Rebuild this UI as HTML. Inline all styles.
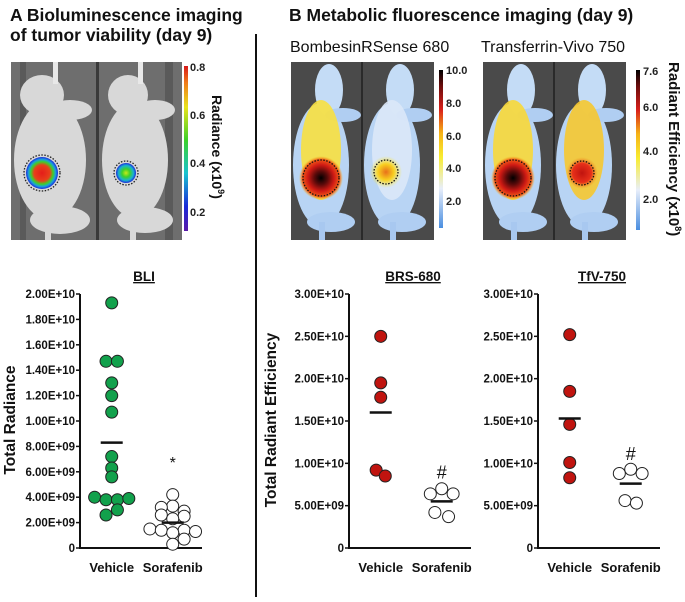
<!DOCTYPE html>
<html><head><meta charset="utf-8">
<style>
html,body{margin:0;padding:0;background:#fff;}
body{width:685px;height:597px;overflow:hidden;position:relative;font-family:"Liberation Sans",Arial,sans-serif;}
</style></head>
<body>
<svg id="fig" width="685" height="597" viewBox="0 0 685 597" xmlns="http://www.w3.org/2000/svg" font-family="Liberation Sans, Arial, sans-serif">
<defs>
<linearGradient id="gA" x1="0" y1="1" x2="0" y2="0">
<stop offset="0" stop-color="#5a1aa8"/><stop offset="0.15" stop-color="#1a2bd8"/><stop offset="0.35" stop-color="#19c3d0"/><stop offset="0.55" stop-color="#3dd12a"/><stop offset="0.75" stop-color="#e9e31c"/><stop offset="0.9" stop-color="#f07a1a"/><stop offset="1" stop-color="#d7181a"/>
</linearGradient>
<linearGradient id="gB" x1="0" y1="1" x2="0" y2="0">
<stop offset="0" stop-color="#4a8ee0"/><stop offset="0.25" stop-color="#e8eefa"/><stop offset="0.45" stop-color="#f8ec30"/><stop offset="0.6" stop-color="#f6b316"/><stop offset="0.75" stop-color="#d9201a"/><stop offset="0.9" stop-color="#6a0c0c"/><stop offset="1" stop-color="#000"/>
</linearGradient>
<radialGradient id="tumBig"><stop offset="0" stop-color="#000"/><stop offset="0.3" stop-color="#5a0a0a"/><stop offset="0.6" stop-color="#d01a14"/><stop offset="0.85" stop-color="#f05a18"/><stop offset="1" stop-color="#f8c020" stop-opacity="0"/></radialGradient>
<radialGradient id="tumMid"><stop offset="0" stop-color="#c0140f"/><stop offset="0.6" stop-color="#e8301a"/><stop offset="1" stop-color="#f0a020" stop-opacity="0"/></radialGradient>
<radialGradient id="tumSm"><stop offset="0" stop-color="#e8701a"/><stop offset="0.5" stop-color="#f8d020"/><stop offset="1" stop-color="#f8ec40" stop-opacity="0"/></radialGradient>
<radialGradient id="bliBig"><stop offset="0" stop-color="#e51d1a"/><stop offset="0.5" stop-color="#e8401a"/><stop offset="0.7" stop-color="#3dd12a"/><stop offset="0.85" stop-color="#1a9ee0"/><stop offset="1" stop-color="#1a2bd8"/></radialGradient>
<radialGradient id="bliSm"><stop offset="0" stop-color="#c8e81c"/><stop offset="0.4" stop-color="#3dd12a"/><stop offset="0.75" stop-color="#19b3d0"/><stop offset="1" stop-color="#1a2bd8"/></radialGradient>
</defs>

<text x="10" y="21" font-size="17.5" font-weight="bold" fill="#111">A  Bioluminescence imaging</text>
<text x="10" y="41" font-size="17.5" font-weight="bold" fill="#111">of tumor viability (day 9)</text>
<text x="289" y="21" font-size="17.5" font-weight="bold" fill="#111">B  Metabolic fluorescence imaging (day 9)</text>
<line x1="256" y1="34" x2="256" y2="597" stroke="#111" stroke-width="2"/>
<text x="290" y="52" font-size="16" fill="#111">BombesinRSense 680</text>
<text x="481" y="52" font-size="16" fill="#111">Transferrin-Vivo 750</text>

<g>
<rect x="11" y="62" width="171" height="178" fill="#6e6e6e"/>
<rect x="20" y="62" width="6" height="178" fill="#5a5a5a"/>
<rect x="96" y="62" width="3" height="178" fill="#3a3a3a"/>
<rect x="165" y="62" width="8" height="178" fill="#5a5a5a"/>
<g fill="#d8d8d8">
<ellipse cx="50" cy="160" rx="36" ry="60"/><ellipse cx="42" cy="95" rx="22" ry="20"/><ellipse cx="70" cy="110" rx="22" ry="10"/><ellipse cx="60" cy="220" rx="30" ry="14"/><rect x="45" y="220" width="6" height="20"/>
<ellipse cx="135" cy="160" rx="33" ry="58"/><ellipse cx="128" cy="95" rx="20" ry="20"/><ellipse cx="155" cy="110" rx="20" ry="10"/><ellipse cx="145" cy="220" rx="28" ry="13"/><rect x="130" y="220" width="6" height="20"/>
</g>
<rect x="53" y="62" width="5" height="22" fill="#e8e8e8"/><rect x="138" y="62" width="5" height="22" fill="#e8e8e8"/>
<circle cx="42" cy="173" r="16" fill="url(#bliBig)"/>
<circle cx="42" cy="173" r="18" fill="none" stroke="#222" stroke-width="1.3" stroke-dasharray="1.5 1.5"/>
<circle cx="126" cy="173" r="10" fill="url(#bliSm)"/>
<circle cx="126" cy="173" r="12" fill="none" stroke="#222" stroke-width="1.3" stroke-dasharray="1.5 1.5"/>
</g>
<g>
<rect x="184" y="66" width="4" height="165" fill="url(#gA)"/>
<g font-size="11" font-weight="bold" fill="#222">
<text x="190" y="71">0.8</text><text x="190" y="119">0.6</text><text x="190" y="167">0.4</text><text x="190" y="216">0.2</text></g>
<text transform="translate(212,95) rotate(90)" font-size="14" font-weight="bold" fill="#111">Radiance (x10<tspan font-size="9" dy="-6">9</tspan><tspan dy="6">)</tspan></text>
</g>

<g id="bimgs"></g>

<g>
<rect x="439" y="70" width="4" height="158" fill="url(#gB)"/>
<g font-size="11" font-weight="bold" fill="#222">
<text x="446" y="74">10.0</text><text x="446" y="107">8.0</text><text x="446" y="140">6.0</text><text x="446" y="172">4.0</text><text x="446" y="205">2.0</text></g>
</g>
<g>
<rect x="636" y="70" width="4" height="160" fill="url(#gB)"/>
<g font-size="11" font-weight="bold" fill="#222">
<text x="643" y="75">7.6</text><text x="643" y="111">6.0</text><text x="643" y="155">4.0</text><text x="643" y="203">2.0</text></g>
<text transform="translate(669,62) rotate(90)" font-size="15" font-weight="bold" fill="#111">Radiant Efficiency (x10<tspan font-size="9" dy="-6">8</tspan><tspan dy="6">)</tspan></text>
</g>

<g id="charts"></g>
</svg>
<script>
const groups = ["Vehicle", "Sorafenib"];
const bliVehicle = [1.93e10,1.47e10,1.47e10,1.30e10,1.20e10,1.07e10,7.2e9,6.3e9,5.6e9,4.0e9,3.8e9,3.8e9,3.9e9,3.0e9,2.6e9];
const bliSorafenib = [4.2e9,3.3e9,3.2e9,2.9e9,2.6e9,2.5e9,2.3e9,1.5e9,1.4e9,1.4e9,1.3e9,1.2e9,0.7e9,0.3e9];
const bliMeans = [8.3e9, 2.0e9];
const brsVehicle = [2.5e10,1.95e10,1.78e10,0.92e10,0.85e10];
const brsSorafenib = [7.0e9,6.4e9,6.4e9,4.2e9,3.7e9];
const brsMeans = [1.6e10, 5.5e9];
const tfvVehicle = [2.52e10,1.85e10,1.46e10,1.01e10,0.83e10];
const tfvSorafenib = [9.3e9,8.8e9,8.8e9,5.6e9,5.3e9];
const tfvMeans = [1.53e10, 7.6e9];
const bliTicks = [0,2e9,4e9,6e9,8e9,1e10,1.2e10,1.4e10,1.6e10,1.8e10,2e10];
const bliTickLabels = ["0","2.00E+09","4.00E+09","6.00E+09","8.00E+09","1.00E+10","1.20E+10","1.40E+10","1.60E+10","1.80E+10","2.00E+10"];
const effTicks = [0,5e9,1e10,1.5e10,2e10,2.5e10,3e10];
const effTickLabels = ["0","5.00E+09","1.00E+10","1.50E+10","2.00E+10","2.50E+10","3.00E+10"];
const bliVehJit = [0,-0.5,0.5,0,0,0,0,0,0,-1.5,-0.5,0.5,1.5,0.5,-0.5];
const bliSorJit = [0,0,-1,1,-1,1,0,-2,-1,1,2,0,1,0];
const brsVehJit = [0,0,0,-0.4,0.4];
const brsSorJit = [0,-1,1,-0.6,0.6];
const tfvVehJit = [0,0,0,0,0];
const tfvSorJit = [0,-1,1,-0.5,0.5];

const NS = "http://www.w3.org/2000/svg";
const root = document.getElementById("charts");
function mk(tag, attrs, parent){ const e=document.createElementNS(NS,tag); for(const k in attrs) e.setAttribute(k,attrs[k]); (parent||root).appendChild(e); return e; }

function chart(o){
  const g = mk("g",{});
  
  
  const y = v => o.y0 - (v/o.max)*(o.y0-o.yTop);
  const xs = [o.ax + (o.ax2-o.ax)*0.26, o.ax + (o.ax2-o.ax)*0.76];
  const ya = mk("line",{x1:o.ax,y1:o.yTop,x2:o.ax,y2:o.y0,stroke:"#111","stroke-width":2},g);
  
  
  const xa = mk("line",{x1:o.ax-1,y1:o.y0,x2:o.ax2,y2:o.y0,stroke:"#111","stroke-width":2},g);
  
  
  o.ticks.forEach((t,i)=>{
    mk("line",{x1:o.ax-4,y1:y(t),x2:o.ax,y2:y(t),stroke:"#111","stroke-width":1.5},g);
    const tl = mk("text",{x:o.ax-5,y:y(t)+4,"text-anchor":"end","font-size":11.5,"font-weight":"bold",fill:"#111"},g);
    tl.textContent = o.labels[i];
    
    
  });
  groups.forEach((gname,i)=>{
    const t = mk("text",{x:xs[i],y:o.y0+24,"text-anchor":"middle","font-size":13,"font-weight":"bold",fill:"#111"},g);
    t.textContent = gname;
    
    
  });
  const tt = mk("text",{x:(o.ax+o.ax2)/2+3,y:o.titleY,"text-anchor":"middle","font-size":13.5,"font-weight":"bold",fill:"#111","text-decoration":"underline"},g);
  tt.textContent = o.title;
  
  
  const r = 6;
  [[o.veh,o.vj,o.fill],[o.sor,o.sj,"#fff"]].forEach(([vals,jit,fill],i)=>{
    vals.forEach((v,k)=>{
      const c = mk("circle",{cx:xs[i]+jit[k]*2*r*0.95,cy:y(v),r:r,fill:fill,stroke:"#222","stroke-width":1},g);
      
      
    });
  });
  o.means.forEach((m,i)=>{
    const l = mk("line",{x1:xs[i]-11,y1:y(m),x2:xs[i]+11,y2:y(m),stroke:"#111","stroke-width":2.5},g);
    
    
  });
  const s = mk("text",{x:xs[1],y:y(o.sigAt),"text-anchor":"middle","font-size":o.sig==="*"?16:18,fill:"#111"},g);
  s.textContent = o.sig;
  
  
  if(o.ylab){
    const yl = mk("text",{transform:`translate(${o.ylabX},${o.ylabY}) rotate(-90)`,"text-anchor":"middle","font-size":15.5,"font-weight":"bold",fill:"#111"},g);
    yl.textContent = o.ylab;
    
    
  }
}
chart({name:"bli-chart",title:"BLI",titleY:281,ax:80,ax2:202,y0:548,yTop:294,max:2e10,ticks:bliTicks,labels:bliTickLabels,
  veh:bliVehicle,sor:bliSorafenib,vj:bliVehJit,sj:bliSorJit,means:bliMeans,fill:"#12a14c",sig:"*",sigAt:6.3e9,ylab:"Total Radiance",ylabX:15,ylabY:420});
chart({name:"brs-chart",title:"BRS-680",titleY:281,ax:349,ax2:471,y0:548,yTop:294,max:3e10,ticks:effTicks,labels:effTickLabels,
  veh:brsVehicle,sor:brsSorafenib,vj:brsVehJit,sj:brsSorJit,means:brsMeans,fill:"#c0140f",sig:"#",sigAt:8.2e9,ylab:"Total Radiant Efficiency",ylabX:276,ylabY:420});
chart({name:"tfv-chart",title:"TfV-750",titleY:281,ax:538,ax2:660,y0:548,yTop:294,max:3e10,ticks:effTicks,labels:effTickLabels,
  veh:tfvVehicle,sor:tfvSorafenib,vj:tfvVehJit,sj:tfvSorJit,means:tfvMeans,fill:"#c0140f",sig:"#",sigAt:1.04e10});

const bimg = document.getElementById("bimgs");
function mouseImg(x0, name, bodyFill, tumors){
  const g = mk("g",{},bimg);
  
  
  mk("rect",{x:x0,y:62,width:143,height:178,fill:"#4a4a4a"},g);
  mk("rect",{x:x0+70,y:62,width:2,height:178,fill:"#2a2a2a"},g);
  [x0+30, x0+101].forEach((cx,i)=>{
    mk("ellipse",{cx:cx,cy:165,rx:28,ry:62,fill:"#b8d4f4"},g);
    mk("ellipse",{cx:cx+8,cy:90,rx:14,ry:26,fill:"#c4dcf6"},g);
    mk("ellipse",{cx:cx+22,cy:115,rx:18,ry:7,fill:"#b0cef2"},g);
    mk("ellipse",{cx:cx+10,cy:222,rx:24,ry:10,fill:"#b0cef2"},g);
    mk("rect",{x:cx-2,y:222,width:6,height:18,fill:"#a8c8f0"},g);
    mk("ellipse",{cx:cx,cy:150,rx:20,ry:50,fill:bodyFill[i],opacity:0.9},g);
  });
  tumors.forEach(t=>{
    mk("ellipse",{cx:t[0],cy:t[1],rx:t[2]+4,ry:t[2]+4,fill:t[3]},g);
    mk("circle",{cx:t[0],cy:t[1],r:t[2],fill:"none",stroke:"#111","stroke-width":1.3,"stroke-dasharray":"1.5 1.5"},g);
  });
}
mouseImg(291,"brs-mouse-image",["#f8e040","#dce8f8"],[[321,178,18,"url(#tumBig)"],[386,172,12,"url(#tumSm)"]]);
mouseImg(483,"tfv-mouse-image",["#f8d838","#f6c830"],[[513,178,18,"url(#tumBig)"],[582,173,12,"url(#tumMid)"]]);
</script>
</body></html>
